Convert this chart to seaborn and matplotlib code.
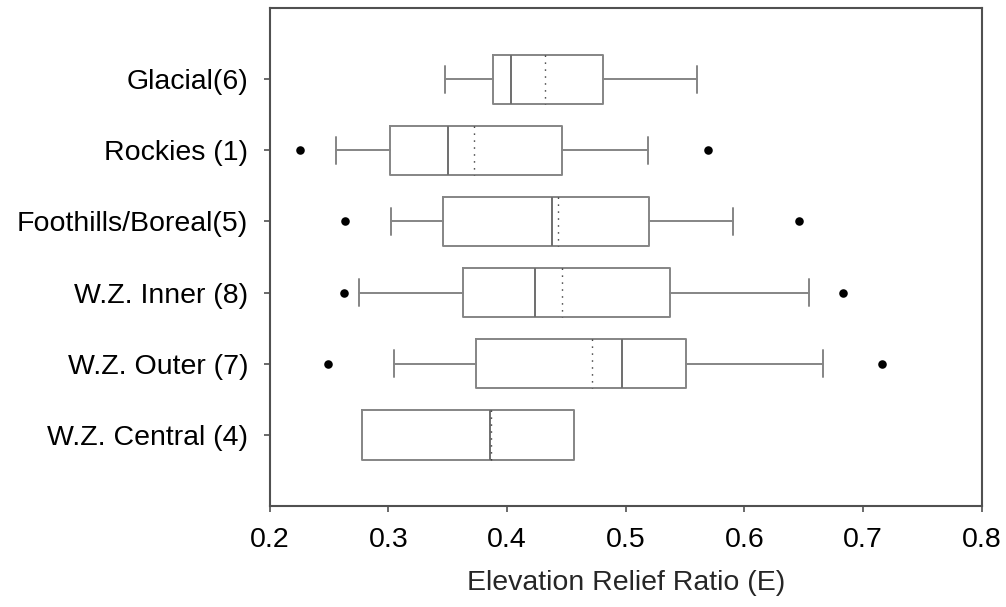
import matplotlib
matplotlib.use("Agg")
import matplotlib.pyplot as plt
import seaborn as sns
import pandas as pd

# ---- data ----
categories = ["Glacial(6)", "Rockies (1)", "Foothills/Boreal(5)",
              "W.Z. Inner (8)", "W.Z. Outer (7)", "W.Z. Central (4)"]
whisker_low = [0.348, 0.256, 0.3025, 0.2755, 0.3046, 0.278]
q1 = [0.388, 0.301, 0.346, 0.363, 0.374, 0.278]
median = [0.403, 0.350, 0.438, 0.4235, 0.497, 0.386]
mean = [0.432, 0.372, 0.443, 0.4465, 0.472, 0.3865]
q3 = [0.481, 0.4465, 0.520, 0.537, 0.551, 0.456]
whisker_high = [0.560, 0.5185, 0.590, 0.654, 0.6665, 0.456]
outlier_low = [None, 0.2255, 0.2634, 0.263, 0.2493, None]
outlier_high = [None, 0.5695, 0.646, 0.683, 0.716, None]
xticks = [0.2, 0.3, 0.4, 0.5, 0.6, 0.7, 0.8]
xlabel = "Elevation Relief Ratio (E)"

sns.set_style("white")
plt.rcParams["font.family"] = ["Liberation Sans", "DejaVu Sans"]

fig = plt.figure(figsize=(10.06, 6.07), dpi=100)
ax = fig.add_axes([0.268, 0.1669, 0.708, 0.8194])

stats = []
for i, c in enumerate(categories):
    stats.append(dict(label=c, whislo=whisker_low[i], q1=q1[i], med=median[i],
                      q3=q3[i], whishi=whisker_high[i], mean=mean[i], fliers=[]))

positions = list(range(len(categories)))
box_color = "#858585"
common = dict(
    positions=positions, widths=0.70, capwidths=[0.38] * 5 + [0.0],
    showmeans=True, meanline=True, showfliers=False,
    boxprops=dict(color=box_color, linewidth=1.4),
    whiskerprops=dict(color=box_color, linewidth=1.4),
    capprops=dict(color=box_color, linewidth=1.4),
    medianprops=dict(color="#6e6e6e", linewidth=1.4),
    meanprops=dict(color="#333333", linewidth=1.0, linestyle=(0, (1, 4))),
    manage_ticks=False,
)
try:
    ax.bxp(stats, orientation="horizontal", **common)
except TypeError:
    ax.bxp(stats, vert=False, **common)

# outliers via seaborn
rows = []
for i, c in enumerate(categories):
    for v in (outlier_low[i], outlier_high[i]):
        if v is not None:
            rows.append({"pos": i, "value": v})
df_out = pd.DataFrame(rows)
sns.scatterplot(data=df_out, x="value", y="pos", ax=ax, color="black",
                s=38, edgecolor="black", linewidth=0, zorder=5, legend=False)

ax.set_xlim(0.2, 0.8)
ax.set_ylim(6, -1)
ax.set_xticks(xticks)
ax.set_xticklabels([f"{t:.1f}" for t in xticks])
ax.set_yticks(positions)
ax.set_yticklabels(categories)
ax.set_xlabel(xlabel, fontsize=20.5, labelpad=12)
ax.set_ylabel("")

for s in ax.spines.values():
    s.set_color("#505050")
    s.set_linewidth(1.5)
    s.set_visible(True)

ax.tick_params(axis="x", which="both", bottom=True, top=False, direction="out",
               length=4.5, width=1.2, color="#505050", labelsize=20.5, pad=11,
               labelcolor="black")
ax.tick_params(axis="y", which="both", left=True, right=False, direction="out",
               length=4.5, width=1.2, color="#505050", labelsize=20.5, pad=11,
               labelcolor="black")
ax.grid(False)

fig.savefig("out.png", dpi=100)
